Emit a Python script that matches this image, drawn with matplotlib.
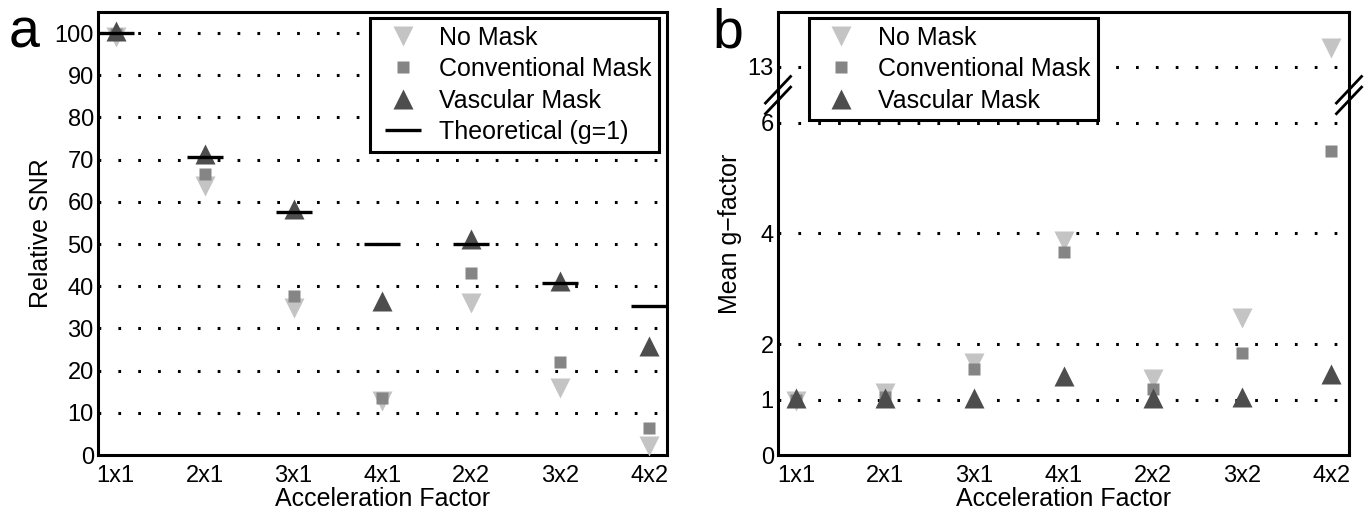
import numpy as np
import matplotlib
matplotlib.use("Agg")
import matplotlib.pyplot as plt

plt.rcParams['font.family'] = ['Liberation Sans', 'DejaVu Sans']
plt.rcParams['font.size'] = 17

factors = ['1x1', '2x1', '3x1', '4x1', '2x2', '3x2', '4x2']

# panel a: relative SNR
snr_nomask = [99, 63.7, 34.9, 12.8, 36.1, 16.0, 2.1]
snr_conv = [99.8, 66.5, 37.6, 13.6, 43.2, 22.0, 6.5]
snr_vasc = [100.4, 71.3, 58.2, 36.5, 51.1, 41.2, 25.8]
snr_theory = [100, 70.7, 57.7, 50, 50, 40.8, 35.4]

# panel b: mean g-factor
g_nomask = [0.98, 1.12, 1.66, 3.86, 1.37, 2.47, 13.34]
g_conv = [1.0, 1.05, 1.55, 3.66, 1.19, 1.84, 5.48]
g_vasc = [1.03, 1.03, 1.03, 1.42, 1.03, 1.04, 1.46]

c_no = '#c4c4c4'
c_conv = '#858585'
c_vasc = '#4d4d4d'

x = np.arange(len(factors))


# broken y axis for panel b: gap 6.5..12.5 squeezed out
def fwd(v):
    v = np.asarray(v, dtype=float)
    return np.where(v <= 6.5, v,
                    np.where(v >= 12.5, v - 12.5 + 6.506, 6.5 + (v - 6.5) * 1e-3))


def inv(t):
    t = np.asarray(t, dtype=float)
    return np.where(t <= 6.5, t,
                    np.where(t >= 6.506, t - 6.506 + 12.5, 6.5 + (t - 6.5) / 1e-3))


fig = plt.figure(figsize=(13.64, 5.18), dpi=100)
axa = fig.add_axes([0.0718, 0.1216, 0.4172, 0.8552])
axb = fig.add_axes([0.5704, 0.1216, 0.4186, 0.8552])


def style(ax):
    for s in ax.spines.values():
        s.set_linewidth(2.2)
    ax.tick_params(length=0, labelsize=17)
    ax.tick_params(axis='x', pad=7)
    ax.tick_params(axis='y', pad=3)
    ax.set_xticks(x)
    ax.set_xticklabels(factors)
    ax.set_xlim(-0.2, 6.2)
    ax.set_xlabel('Acceleration Factor', fontsize=18, labelpad=0)


def dotted_grid(ax, vals):
    for v in vals:
        ax.axhline(v, color='black', lw=2.2, dashes=(0.9, 5.6),
                   dash_capstyle='butt', zorder=1)


def legend(ax, loc, anchor):
    lg = ax.legend(loc=loc, bbox_to_anchor=anchor, numpoints=1,
                   fancybox=False, framealpha=1, edgecolor='black', fontsize=18,
                   borderaxespad=0, labelspacing=0.3, handletextpad=0.45,
                   borderpad=0.3, handlelength=2.0)
    lg.get_frame().set_linewidth(2.2)
    lg.set_zorder(10)
    return lg


# ---- panel a
style(axa)
axa.set_ylim(0, 105)
axa.set_yticks(np.arange(0, 101, 10))
dotted_grid(axa, np.arange(10, 101, 10))
axa.plot(x, snr_nomask, 'v', color=c_no, ms=14.5, mec='none', label='No Mask', zorder=3)
axa.plot(x, snr_conv, 's', color=c_conv, ms=9, mec='none', label='Conventional Mask', zorder=4)
axa.plot(x, snr_vasc, '^', color=c_vasc, ms=14.5, mec='none', label='Vascular Mask', zorder=5)
axa.plot(x, snr_theory, '_', color='black', ms=26, mew=2.4, label='Theoretical (g=1)', zorder=6)
axa.set_ylabel('Relative SNR', fontsize=18, labelpad=1)
legend(axa, 'upper right', (0.986, 0.986))
fig.text(0.006, 0.985, 'a', fontsize=40, va='top', ha='left')

# ---- panel b
style(axb)
axb.set_yscale('function', functions=(fwd, inv))
axb.set_ylim(0, 13.99)
axb.set_yticks([0, 1, 2, 4, 6, 13])
axb.set_yticklabels(['0', '1', '2', '4', '6', '13'])
axb.minorticks_off()
dotted_grid(axb, [1, 2, 4, 6, 13])
axb.plot(x, g_nomask, 'v', color=c_no, ms=14.5, mec='none', label='No Mask', zorder=3)
axb.plot(x, g_conv, 's', color=c_conv, ms=9, mec='none', label='Conventional Mask', zorder=4)
axb.plot(x, g_vasc, '^', color=c_vasc, ms=14.5, mec='none', label='Vascular Mask', zorder=5)
axb.set_ylabel('Mean g\u2212factor', fontsize=18, labelpad=4)
legend(axb, 'upper left', (0.054, 0.986))

# break marks on both spines
ybrk = 6.5 / 8.0
for xs in (0.0, 1.0):
    for dy in (-0.012, 0.012):
        axb.plot([xs - 0.022, xs + 0.022], [ybrk + dy - 0.03, ybrk + dy + 0.03],
                 transform=axb.transAxes, color='black', lw=2, clip_on=False, zorder=11)
fig.text(0.522, 0.985, 'b', fontsize=40, va='top', ha='left')

fig.savefig('out.png', dpi=100)
